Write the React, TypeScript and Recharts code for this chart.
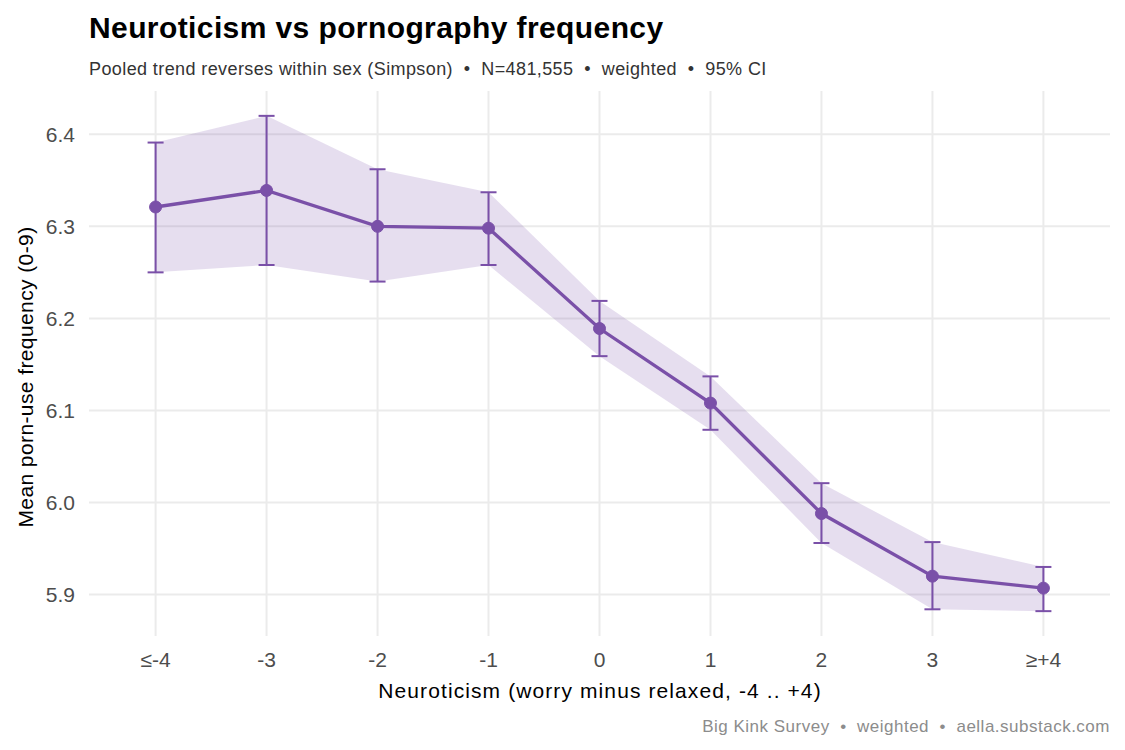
import React from "react";
import { ComposedChart, Line, Area, ErrorBar, XAxis, YAxis, CartesianGrid } from "recharts";

const categories = ["≤-4", "-3", "-2", "-1", "0", "1", "2", "3", "≥+4"];
const means = [6.321, 6.339, 6.300, 6.298, 6.189, 6.108, 5.988, 5.920, 5.907];
const lower = [6.250, 6.258, 6.240, 6.258, 6.159, 6.079, 5.956, 5.884, 5.882];
const upper = [6.391, 6.420, 6.362, 6.337, 6.219, 6.137, 6.021, 5.957, 5.930];
const yTicks = [5.9, 6.0, 6.1, 6.2, 6.3, 6.4];
const xTicks = [0, 1, 2, 3, 4, 5, 6, 7, 8];
const Y_DOMAIN: [number, number] = [5.855, 6.447];
const X_DOMAIN: [number, number] = [-0.6, 8.6];

const data = categories.map((c, i) => ({
  x: i,
  label: c,
  mean: means[i],
  ci: [lower[i], upper[i]],
  err: [means[i] - lower[i], upper[i] - means[i]],
}));

const PURPLE = "#7a50a8";
const FONT = "'Liberation Sans', Arial, sans-serif";
const SEP = "\u00a0\u00a0•\u00a0\u00a0";
const MARGIN = { top: 91, right: 15, bottom: 84, left: 49 };
const Y_AXIS_W = 40;
const X_AXIS_H = 30;
const PLOT = {
  left: MARGIN.left + Y_AXIS_W,
  top: MARGIN.top,
  width: 1125 - MARGIN.left - Y_AXIS_W - MARGIN.right,
  height: 750 - MARGIN.top - MARGIN.bottom - X_AXIS_H,
};

const yPix = (t: number) =>
  PLOT.top + ((Y_DOMAIN[1] - t) / (Y_DOMAIN[1] - Y_DOMAIN[0])) * PLOT.height;
const xPix = (t: number) =>
  PLOT.left + ((t - X_DOMAIN[0]) / (X_DOMAIN[1] - X_DOMAIN[0])) * PLOT.width;

export default function App() {
  return (
    <div style={{ position: "absolute", left: 0, top: 0, width: 1125, height: 750, background: "#fff", fontFamily: FONT }}>
      <ComposedChart width={1125} height={750} data={data} margin={MARGIN}>
        <CartesianGrid
          stroke="#ebebeb"
          strokeWidth={2}
          horizontalPoints={yTicks.map(yPix)}
          verticalPoints={xTicks.map(xPix)}
        />
        <XAxis
          dataKey="x"
          type="number"
          domain={X_DOMAIN}
          ticks={xTicks}
          tickFormatter={(v: number) => categories[v]}
          axisLine={false}
          tickLine={false}
          height={X_AXIS_H}
          tick={{ fontSize: 21, fill: "#4d4d4d", fontFamily: FONT }}
          tickMargin={10}
          allowDataOverflow
        />
        <YAxis
          type="number"
          domain={Y_DOMAIN}
          ticks={yTicks}
          tickFormatter={(v: number) => v.toFixed(1)}
          axisLine={false}
          tickLine={false}
          width={Y_AXIS_W}
          tick={{ fontSize: 21, fill: "#4d4d4d", fontFamily: FONT }}
          tickMargin={8}
          allowDataOverflow
        />
        <Area
          dataKey="ci"
          type="linear"
          stroke="none"
          fill={PURPLE}
          fillOpacity={0.19}
          isAnimationActive={false}
        />
        <Line
          dataKey="mean"
          type="linear"
          stroke={PURPLE}
          strokeWidth={3.3}
          dot={{ r: 6, fill: PURPLE, stroke: PURPLE, strokeWidth: 1 }}
          activeDot={false}
          isAnimationActive={false}
        >
          <ErrorBar dataKey="err" width={8} stroke={PURPLE} strokeWidth={2} direction="y" />
        </Line>
        <text x={89} y={38} fontSize={30} fontWeight="bold" fill="#000" fontFamily={FONT} letterSpacing={0.4}>
          Neuroticism vs pornography frequency
        </text>
        <text x={89} y={75} fontSize={18} fill="#333" fontFamily={FONT} letterSpacing={0.4}>
          {"Pooled trend reverses within sex (Simpson)" + SEP + "N=481,555" + SEP + "weighted" + SEP + "95% CI"}
        </text>
        <text x={600} y={698} textAnchor="middle" fontSize={21} fill="#000" fontFamily={FONT} letterSpacing={1.1}>
          Neuroticism (worry minus relaxed, -4 .. +4)
        </text>
        <text
          x={33}
          y={377}
          textAnchor="middle"
          fontSize={21}
          fill="#000"
          fontFamily={FONT}
          letterSpacing={0.4}
          transform="rotate(-90, 33, 377)"
        >
          Mean porn-use frequency (0-9)
        </text>
        <text x={1110} y={732} textAnchor="end" fontSize={17} fill="#8c8c8c" fontFamily={FONT} letterSpacing={0.5}>
          {"Big Kink Survey" + SEP + "weighted" + SEP + "aella.substack.com"}
        </text>
      </ComposedChart>
    </div>
  );
}
